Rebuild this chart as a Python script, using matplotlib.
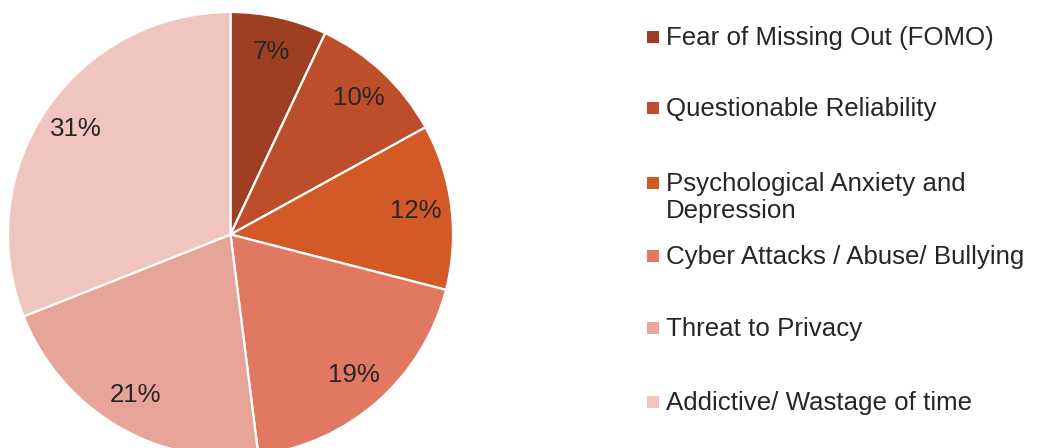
import matplotlib.pyplot as plt

# data
categories = ["Fear of Missing Out (FOMO)", "Questionable Reliability",
              "Psychological Anxiety and\nDepression", "Cyber Attacks / Abuse/ Bullying",
              "Threat to Privacy", "Addictive/ Wastage of time"]
shares = [7, 10, 12, 19, 21, 31]
colors = ["#9E3F23", "#BC4F2A", "#D35A27", "#E07862", "#E6A598", "#F0C5BD"]

plt.rcParams['font.family'] = ['Liberation Sans', 'DejaVu Sans']
text_color = "#262626"

fig = plt.figure(figsize=(10.38, 4.48), dpi=100)

# pie axes (extends a bit below the figure, as in the reference)
W, H = 1038, 448
r = 222.5
cx, cy = 230.5, 234.5
ax = fig.add_axes([(cx - r) / W, (H - cy - r) / H, 2 * r / W, 2 * r / H])
wedges, texts, autotexts = ax.pie(
    shares, colors=colors, startangle=90, counterclock=False,
    autopct='%d%%', pctdistance=0.84, radius=1,
    wedgeprops=dict(edgecolor='white', linewidth=1.6),
    textprops=dict(fontsize=18.6, color=text_color))
ax.set_xlim(-1, 1)
ax.set_ylim(-1, 1)
ax.set_aspect('equal')

# legend drawn by hand in pixel coordinates
lax = fig.add_axes([0, 0, 1, 1])
lax.set_xlim(0, W)
lax.set_ylim(H, 0)
lax.axis('off')
row_y = [37, 108, 183, 256, 328, 402]
for lab, col, y in zip(categories, colors, row_y):
    lax.scatter([653], [y], marker='s', s=75, color=col, linewidths=0)
    lax.text(666, y - 11, lab, fontsize=18.6, color=text_color, va='top',
             ha='left', linespacing=1.15)

fig.savefig("out.png", dpi=100)
